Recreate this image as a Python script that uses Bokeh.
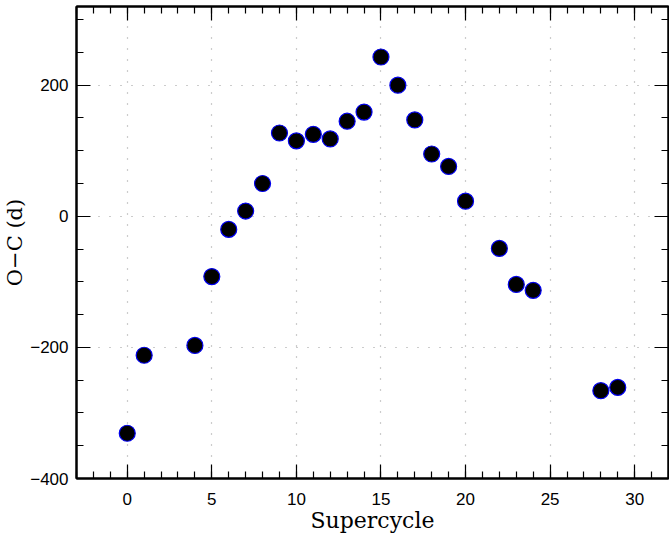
from bokeh.plotting import figure
from bokeh.models import FixedTicker, LinearAxis, Range1d
from bokeh.embed import file_html
from bokeh.resources import INLINE

supercycle = [0, 1, 4, 5, 6, 7, 8, 9, 10, 11, 12, 13, 14, 15, 16, 17, 18, 19, 20, 22, 23, 24, 28, 29]
o_minus_c = [-331, -212, -197, -92, -20, 8, 50, 127, 115, 125, 118, 145, 159, 243, 200, 147, 95, 76, 23,
             -49, -104, -113, -266, -261]

x_major = [0, 5, 10, 15, 20, 25, 30]
x_minor = list(range(-3, 33))
y_major = [-400, -200, 0, 200]
y_minor = list(range(-400, 321, 50))

p = figure(width=669, height=535, output_backend="svg", toolbar_location=None,
           x_range=Range1d(-3, 32), y_range=Range1d(-400, 320),
           min_border_top=6, min_border_right=1, min_border_left=2, min_border_bottom=2)
p.outline_line_color = "black"
p.outline_line_width = 2
p.background_fill_color = "white"
p.border_fill_color = "white"

p.scatter(supercycle, o_minus_c, size=16, fill_color="black", line_color="#0000ee", line_width=1.2)

xt = FixedTicker(ticks=x_major, minor_ticks=x_minor)
yt = FixedTicker(ticks=y_major, minor_ticks=y_minor)
p.xaxis.ticker = xt
p.yaxis.ticker = yt
p.yaxis.major_label_overrides = {-400: "\u2212400", -200: "\u2212200", 0: "0", 200: "200"}

for ax in [p.xaxis[0], p.yaxis[0]]:
    ax.major_tick_in = 14
    ax.major_tick_out = 0
    ax.minor_tick_in = 7
    ax.minor_tick_out = 0
    ax.axis_line_width = 2
    ax.major_tick_line_width = 1.2
    ax.minor_tick_line_width = 1.2
    ax.major_label_text_font = "Liberation Sans"
    ax.major_label_text_font_size = "17px"
    ax.major_label_text_color = "black"
    ax.axis_label_text_font = "DejaVu Serif"
    ax.axis_label_text_font_style = "normal"
    ax.axis_label_text_color = "black"

p.xaxis.axis_label_text_font_size = "22px"
p.yaxis.axis_label_text_font_size = "21px"
p.xaxis.axis_label = "Supercycle"
p.yaxis.axis_label = "O\u2212C (d)"
p.xaxis.major_label_standoff = 14
p.yaxis.major_label_standoff = 8
p.xaxis.axis_label_standoff = 0
p.yaxis.axis_label_standoff = 0

top = LinearAxis(ticker=FixedTicker(ticks=x_major, minor_ticks=x_minor))
right = LinearAxis(ticker=FixedTicker(ticks=y_major, minor_ticks=y_minor))
top.major_label_overrides = {t: "" for t in x_major}
right.major_label_overrides = {t: "" for t in y_major}
for ax in [top, right]:
    ax.major_tick_in = 14
    ax.major_tick_out = 0
    ax.minor_tick_in = 7
    ax.minor_tick_out = 0
    ax.axis_line_width = 2
    ax.major_tick_line_width = 1.2
    ax.minor_tick_line_width = 1.2
    ax.major_label_standoff = 0
p.add_layout(top, "above")
p.add_layout(right, "right")

p.xgrid.ticker = xt
p.ygrid.ticker = yt
p.grid.grid_line_color = "#999999"
p.grid.grid_line_dash = "1 10"
p.grid.grid_line_width = 1.2

open("out.html", "w").write(file_html(p, INLINE))
